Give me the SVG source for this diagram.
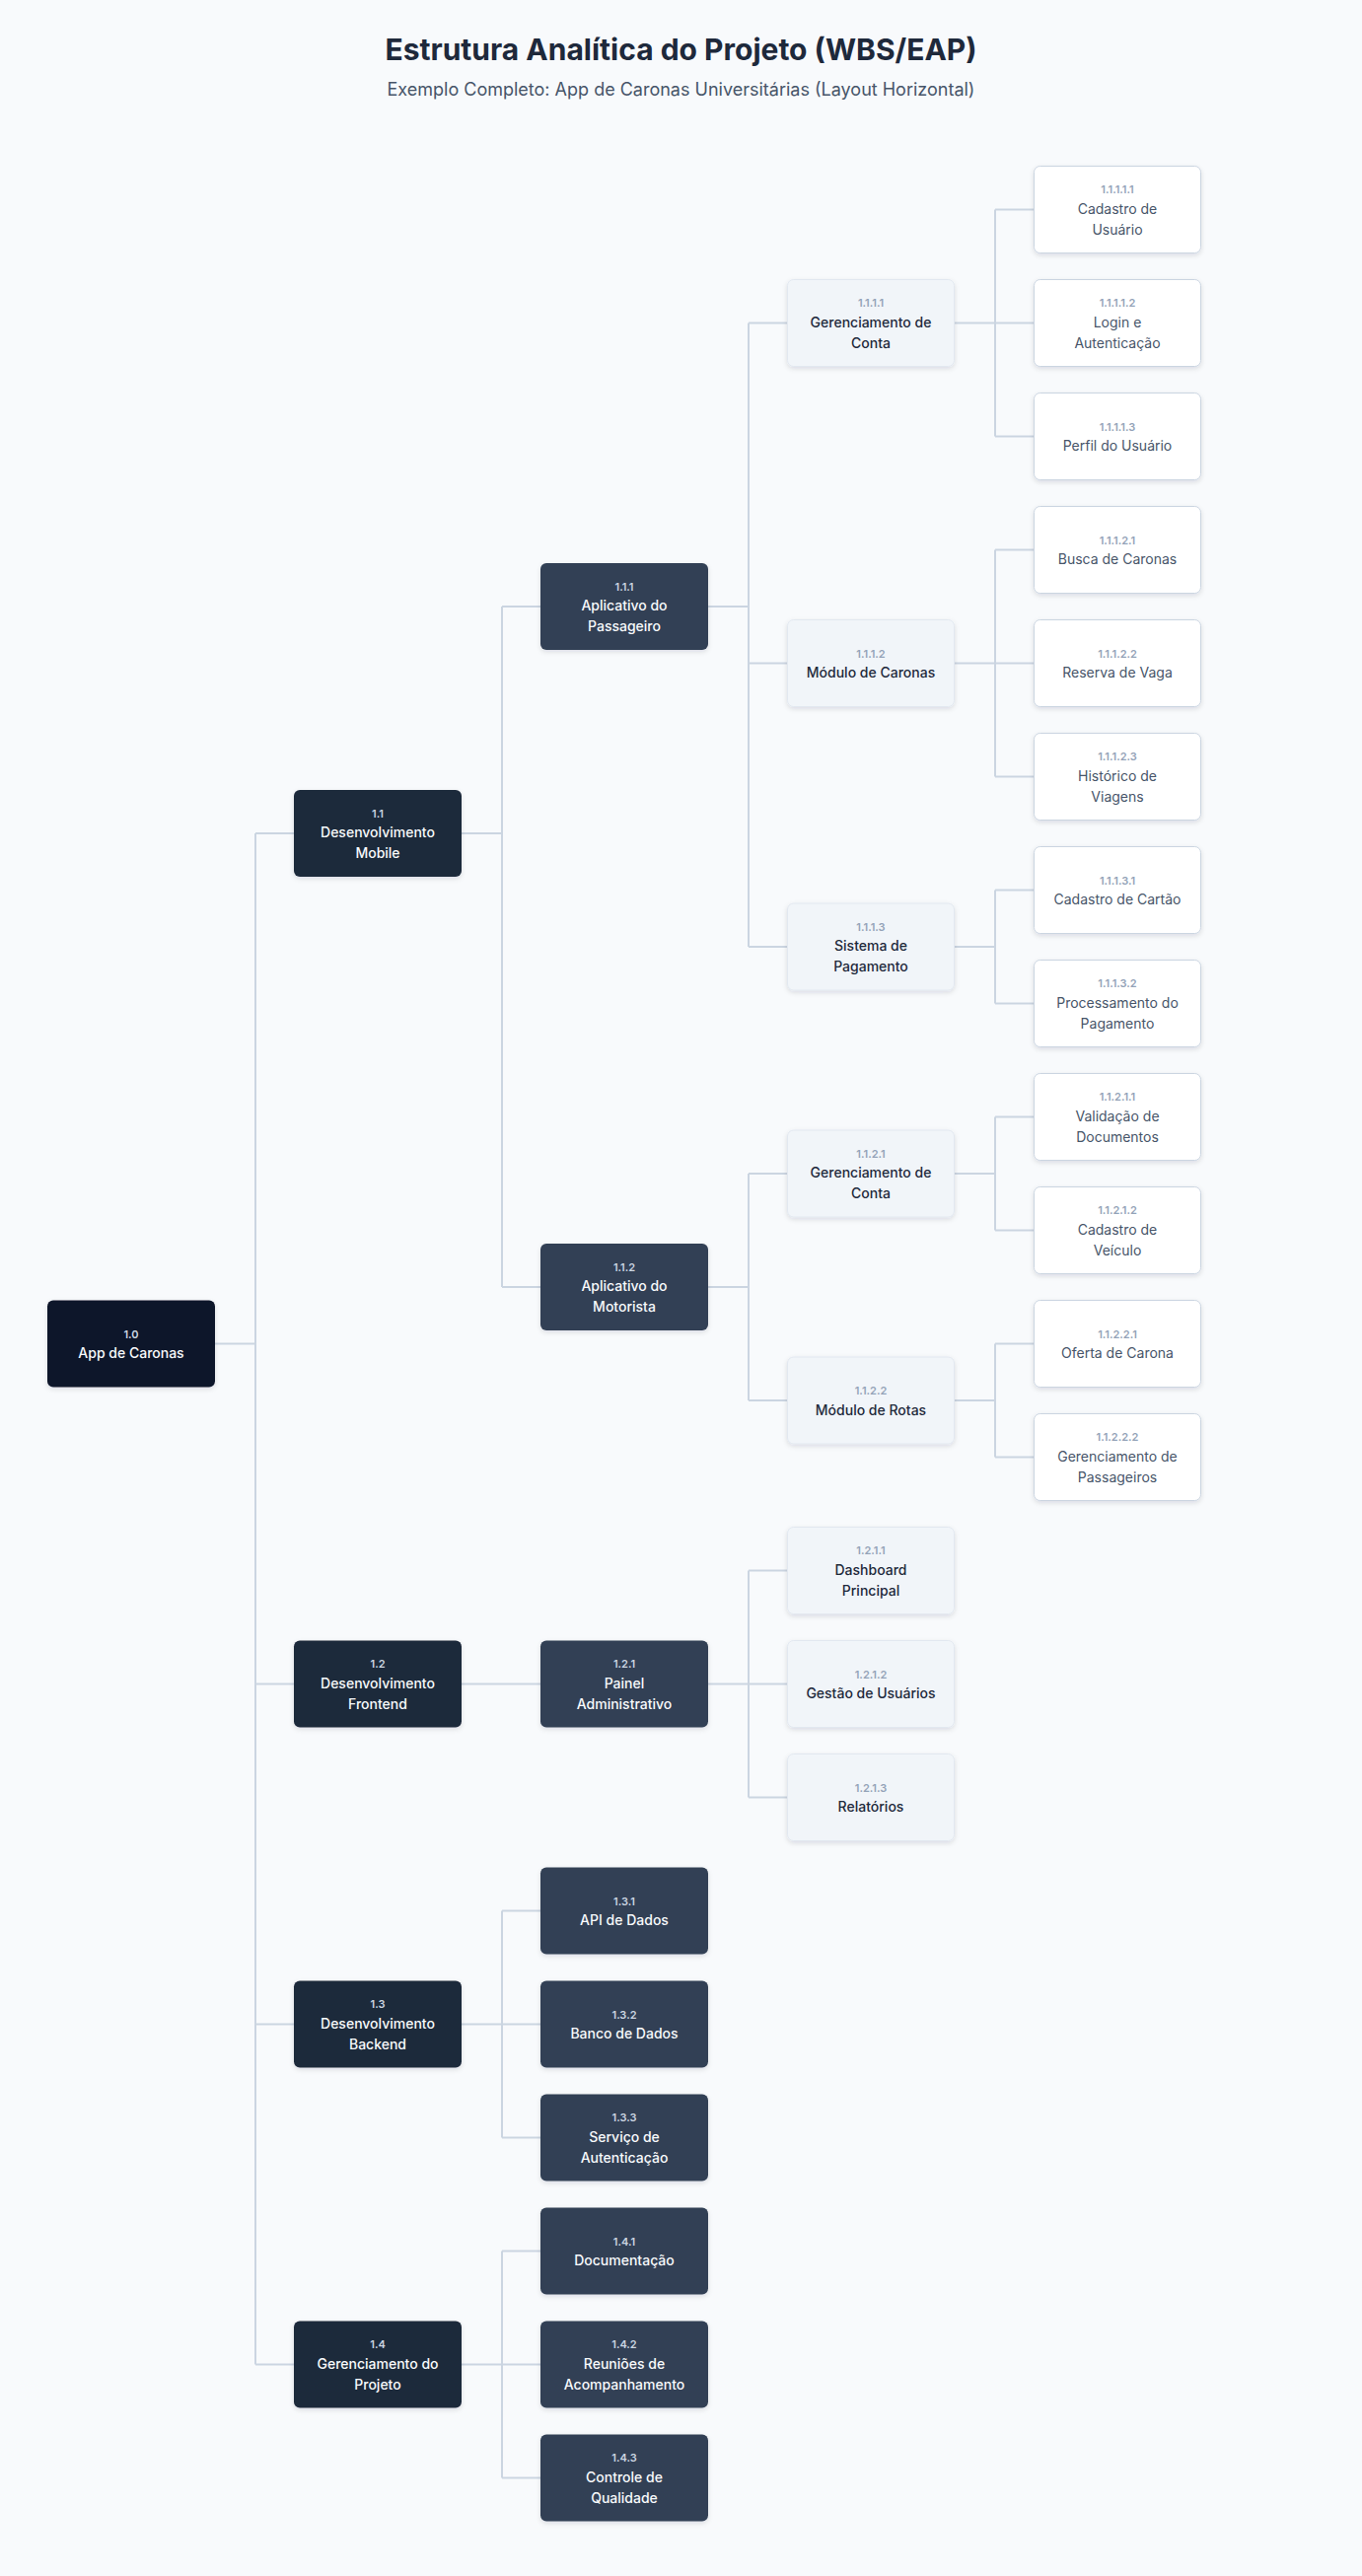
<svg xmlns="http://www.w3.org/2000/svg" width="1381" height="2612" viewBox="0 0 1381 2612">
<style>
text{font-family:Inter,"Noto Sans","Liberation Sans",sans-serif;text-anchor:middle}
.t{font-size:30px;font-weight:700;fill:#1e293b}
.st{font-size:18px;font-weight:400;fill:#475569}
.c{font-size:11px;font-weight:600}
.n{font-size:14px;font-weight:500}
.l0 rect{fill:#0f172a}
.l1 rect{fill:#1e293b}
.l2 rect{fill:#334155}
.l0 .c,.l1 .c,.l2 .c{fill:#cbd5e1}
.l0 .n,.l1 .n,.l2 .n{fill:#f8fafc}
.l3 rect{fill:#f1f5f9;stroke:#e2e8f0;stroke-width:1}
.l3 .c{fill:#94a3b8}
.l3 .n{fill:#1e293b}
.l4 rect{fill:#ffffff;stroke:#cbd5e1;stroke-width:1}
.l4 .c{fill:#94a3b8}
.l4 .n{fill:#475569;font-weight:400}
.conn path{fill:none;stroke:#cbd5e1;stroke-width:2}
</style>
<defs>
<filter id="sh" x="-20%" y="-20%" width="140%" height="150%">
<feDropShadow dx="0" dy="2" stdDeviation="2.5" flood-color="#0f172a" flood-opacity="0.12"/>
</filter>
</defs>
<rect x="0" y="0" width="1381" height="2612" fill="#f8fafc"/>
<text class="t" x="690.5" y="61">Estrutura Analítica do Projeto (WBS/EAP)</text>
<text class="st" x="690.5" y="97">Exemplo Completo: App de Caronas Universitárias (Layout Horizontal)</text>

<g class="conn">
<path d="M218 1362.5H259M259 845V2397.5M259 845H298M259 1707.5H298M259 2052.5H298M259 2397.5H298"/>
<path d="M468 845H509M509 615V1305M509 615H548M509 1305H548"/>
<path d="M718 615H759M759 327.5V960M759 327.5H798M759 672.5H798M759 960H798"/>
<path d="M968 327.5H1009M1009 212.5V442.5M1009 212.5H1048M1009 327.5H1048M1009 442.5H1048"/>
<path d="M968 672.5H1009M1009 557.5V787.5M1009 557.5H1048M1009 672.5H1048M1009 787.5H1048"/>
<path d="M968 960H1009M1009 902.5V1017.5M1009 902.5H1048M1009 1017.5H1048"/>
<path d="M718 1305H759M759 1190V1420M759 1190H798M759 1420H798"/>
<path d="M968 1190H1009M1009 1132.5V1247.5M1009 1132.5H1048M1009 1247.5H1048"/>
<path d="M968 1420H1009M1009 1362.5V1477.5M1009 1362.5H1048M1009 1477.5H1048"/>
<path d="M468 1707.5H548"/>
<path d="M718 1707.5H759M759 1592.5V1822.5M759 1592.5H798M759 1707.5H798M759 1822.5H798"/>
<path d="M468 2052.5H509M509 1937.5V2167.5M509 1937.5H548M509 2052.5H548M509 2167.5H548"/>
<path d="M468 2397.5H509M509 2282.5V2512.5M509 2282.5H548M509 2397.5H548M509 2512.5H548"/>
</g>

<!-- Level 0 -->
<g id="n1_0" class="l0"><rect x="48" y="1318.5" width="170" height="88" rx="6" filter="url(#sh)"/><text class="c" x="133" y="1356.5">1.0</text><text class="n" x="133" y="1377">App de Caronas</text></g>

<!-- Level 1 -->
<g id="n1_1" class="l1"><rect x="298" y="801" width="170" height="88" rx="6" filter="url(#sh)"/><text class="c" x="383" y="828.5">1.1</text><text class="n" x="383" y="849">Desenvolvimento</text><text class="n" x="383" y="870">Mobile</text></g>
<g id="n1_2" class="l1"><rect x="298" y="1663.5" width="170" height="88" rx="6" filter="url(#sh)"/><text class="c" x="383" y="1691">1.2</text><text class="n" x="383" y="1711.5">Desenvolvimento</text><text class="n" x="383" y="1732.5">Frontend</text></g>
<g id="n1_3" class="l1"><rect x="298" y="2008.5" width="170" height="88" rx="6" filter="url(#sh)"/><text class="c" x="383" y="2036">1.3</text><text class="n" x="383" y="2056.5">Desenvolvimento</text><text class="n" x="383" y="2077.5">Backend</text></g>
<g id="n1_4" class="l1"><rect x="298" y="2353.5" width="170" height="88" rx="6" filter="url(#sh)"/><text class="c" x="383" y="2381">1.4</text><text class="n" x="383" y="2401.5">Gerenciamento do</text><text class="n" x="383" y="2422.5">Projeto</text></g>

<!-- Level 2 -->
<g id="n1_1_1" class="l2"><rect x="548" y="571" width="170" height="88" rx="6" filter="url(#sh)"/><text class="c" x="633" y="598.5">1.1.1</text><text class="n" x="633" y="619">Aplicativo do</text><text class="n" x="633" y="640">Passageiro</text></g>
<g id="n1_1_2" class="l2"><rect x="548" y="1261" width="170" height="88" rx="6" filter="url(#sh)"/><text class="c" x="633" y="1288.5">1.1.2</text><text class="n" x="633" y="1309">Aplicativo do</text><text class="n" x="633" y="1330">Motorista</text></g>
<g id="n1_2_1" class="l2"><rect x="548" y="1663.5" width="170" height="88" rx="6" filter="url(#sh)"/><text class="c" x="633" y="1691">1.2.1</text><text class="n" x="633" y="1711.5">Painel</text><text class="n" x="633" y="1732.5">Administrativo</text></g>
<g id="n1_3_1" class="l2"><rect x="548" y="1893.5" width="170" height="88" rx="6" filter="url(#sh)"/><text class="c" x="633" y="1931.5">1.3.1</text><text class="n" x="633" y="1952">API de Dados</text></g>
<g id="n1_3_2" class="l2"><rect x="548" y="2008.5" width="170" height="88" rx="6" filter="url(#sh)"/><text class="c" x="633" y="2046.5">1.3.2</text><text class="n" x="633" y="2067">Banco de Dados</text></g>
<g id="n1_3_3" class="l2"><rect x="548" y="2123.5" width="170" height="88" rx="6" filter="url(#sh)"/><text class="c" x="633" y="2151">1.3.3</text><text class="n" x="633" y="2171.5">Serviço de</text><text class="n" x="633" y="2192.5">Autenticação</text></g>
<g id="n1_4_1" class="l2"><rect x="548" y="2238.5" width="170" height="88" rx="6" filter="url(#sh)"/><text class="c" x="633" y="2276.5">1.4.1</text><text class="n" x="633" y="2297">Documentação</text></g>
<g id="n1_4_2" class="l2"><rect x="548" y="2353.5" width="170" height="88" rx="6" filter="url(#sh)"/><text class="c" x="633" y="2381">1.4.2</text><text class="n" x="633" y="2401.5">Reuniões de</text><text class="n" x="633" y="2422.5">Acompanhamento</text></g>
<g id="n1_4_3" class="l2"><rect x="548" y="2468.5" width="170" height="88" rx="6" filter="url(#sh)"/><text class="c" x="633" y="2496">1.4.3</text><text class="n" x="633" y="2516.5">Controle de</text><text class="n" x="633" y="2537.5">Qualidade</text></g>

<!-- Level 3 -->
<g id="n1_1_1_1" class="l3"><rect x="798.5" y="283.5" width="169" height="88" rx="6" filter="url(#sh)"/><text class="c" x="883" y="311">1.1.1.1</text><text class="n" x="883" y="331.5">Gerenciamento de</text><text class="n" x="883" y="352.5">Conta</text></g>
<g id="n1_1_1_2" class="l3"><rect x="798.5" y="628.5" width="169" height="88" rx="6" filter="url(#sh)"/><text class="c" x="883" y="666.5">1.1.1.2</text><text class="n" x="883" y="687">Módulo de Caronas</text></g>
<g id="n1_1_1_3" class="l3"><rect x="798.5" y="916" width="169" height="88" rx="6" filter="url(#sh)"/><text class="c" x="883" y="943.5">1.1.1.3</text><text class="n" x="883" y="964">Sistema de</text><text class="n" x="883" y="985">Pagamento</text></g>
<g id="n1_1_2_1" class="l3"><rect x="798.5" y="1146" width="169" height="88" rx="6" filter="url(#sh)"/><text class="c" x="883" y="1173.5">1.1.2.1</text><text class="n" x="883" y="1194">Gerenciamento de</text><text class="n" x="883" y="1215">Conta</text></g>
<g id="n1_1_2_2" class="l3"><rect x="798.5" y="1376" width="169" height="88" rx="6" filter="url(#sh)"/><text class="c" x="883" y="1414">1.1.2.2</text><text class="n" x="883" y="1434.5">Módulo de Rotas</text></g>
<g id="n1_2_1_1" class="l3"><rect x="798.5" y="1548.5" width="169" height="88" rx="6" filter="url(#sh)"/><text class="c" x="883" y="1576">1.2.1.1</text><text class="n" x="883" y="1596.5">Dashboard</text><text class="n" x="883" y="1617.5">Principal</text></g>
<g id="n1_2_1_2" class="l3"><rect x="798.5" y="1663.5" width="169" height="88" rx="6" filter="url(#sh)"/><text class="c" x="883" y="1701.5">1.2.1.2</text><text class="n" x="883" y="1722">Gestão de Usuários</text></g>
<g id="n1_2_1_3" class="l3"><rect x="798.5" y="1778.5" width="169" height="88" rx="6" filter="url(#sh)"/><text class="c" x="883" y="1816.5">1.2.1.3</text><text class="n" x="883" y="1837">Relatórios</text></g>

<!-- Level 4 -->
<g id="n1_1_1_1_1" class="l4"><rect x="1048.5" y="168.5" width="169" height="88" rx="6" filter="url(#sh)"/><text class="c" x="1133" y="196">1.1.1.1.1</text><text class="n" x="1133" y="216.5">Cadastro de</text><text class="n" x="1133" y="237.5">Usuário</text></g>
<g id="n1_1_1_1_2" class="l4"><rect x="1048.5" y="283.5" width="169" height="88" rx="6" filter="url(#sh)"/><text class="c" x="1133" y="311">1.1.1.1.2</text><text class="n" x="1133" y="331.5">Login e</text><text class="n" x="1133" y="352.5">Autenticação</text></g>
<g id="n1_1_1_1_3" class="l4"><rect x="1048.5" y="398.5" width="169" height="88" rx="6" filter="url(#sh)"/><text class="c" x="1133" y="436.5">1.1.1.1.3</text><text class="n" x="1133" y="457">Perfil do Usuário</text></g>
<g id="n1_1_1_2_1" class="l4"><rect x="1048.5" y="513.5" width="169" height="88" rx="6" filter="url(#sh)"/><text class="c" x="1133" y="551.5">1.1.1.2.1</text><text class="n" x="1133" y="572">Busca de Caronas</text></g>
<g id="n1_1_1_2_2" class="l4"><rect x="1048.5" y="628.5" width="169" height="88" rx="6" filter="url(#sh)"/><text class="c" x="1133" y="666.5">1.1.1.2.2</text><text class="n" x="1133" y="687">Reserva de Vaga</text></g>
<g id="n1_1_1_2_3" class="l4"><rect x="1048.5" y="743.5" width="169" height="88" rx="6" filter="url(#sh)"/><text class="c" x="1133" y="771">1.1.1.2.3</text><text class="n" x="1133" y="791.5">Histórico de</text><text class="n" x="1133" y="812.5">Viagens</text></g>
<g id="n1_1_1_3_1" class="l4"><rect x="1048.5" y="858.5" width="169" height="88" rx="6" filter="url(#sh)"/><text class="c" x="1133" y="896.5">1.1.1.3.1</text><text class="n" x="1133" y="917">Cadastro de Cartão</text></g>
<g id="n1_1_1_3_2" class="l4"><rect x="1048.5" y="973.5" width="169" height="88" rx="6" filter="url(#sh)"/><text class="c" x="1133" y="1001">1.1.1.3.2</text><text class="n" x="1133" y="1021.5">Processamento do</text><text class="n" x="1133" y="1042.5">Pagamento</text></g>
<g id="n1_1_2_1_1" class="l4"><rect x="1048.5" y="1088.5" width="169" height="88" rx="6" filter="url(#sh)"/><text class="c" x="1133" y="1116">1.1.2.1.1</text><text class="n" x="1133" y="1136.5">Validação de</text><text class="n" x="1133" y="1157.5">Documentos</text></g>
<g id="n1_1_2_1_2" class="l4"><rect x="1048.5" y="1203.5" width="169" height="88" rx="6" filter="url(#sh)"/><text class="c" x="1133" y="1231">1.1.2.1.2</text><text class="n" x="1133" y="1251.5">Cadastro de</text><text class="n" x="1133" y="1272.5">Veículo</text></g>
<g id="n1_1_2_2_1" class="l4"><rect x="1048.5" y="1318.5" width="169" height="88" rx="6" filter="url(#sh)"/><text class="c" x="1133" y="1356.5">1.1.2.2.1</text><text class="n" x="1133" y="1377">Oferta de Carona</text></g>
<g id="n1_1_2_2_2" class="l4"><rect x="1048.5" y="1433.5" width="169" height="88" rx="6" filter="url(#sh)"/><text class="c" x="1133" y="1461">1.1.2.2.2</text><text class="n" x="1133" y="1481.5">Gerenciamento de</text><text class="n" x="1133" y="1502.5">Passageiros</text></g>
</svg>
